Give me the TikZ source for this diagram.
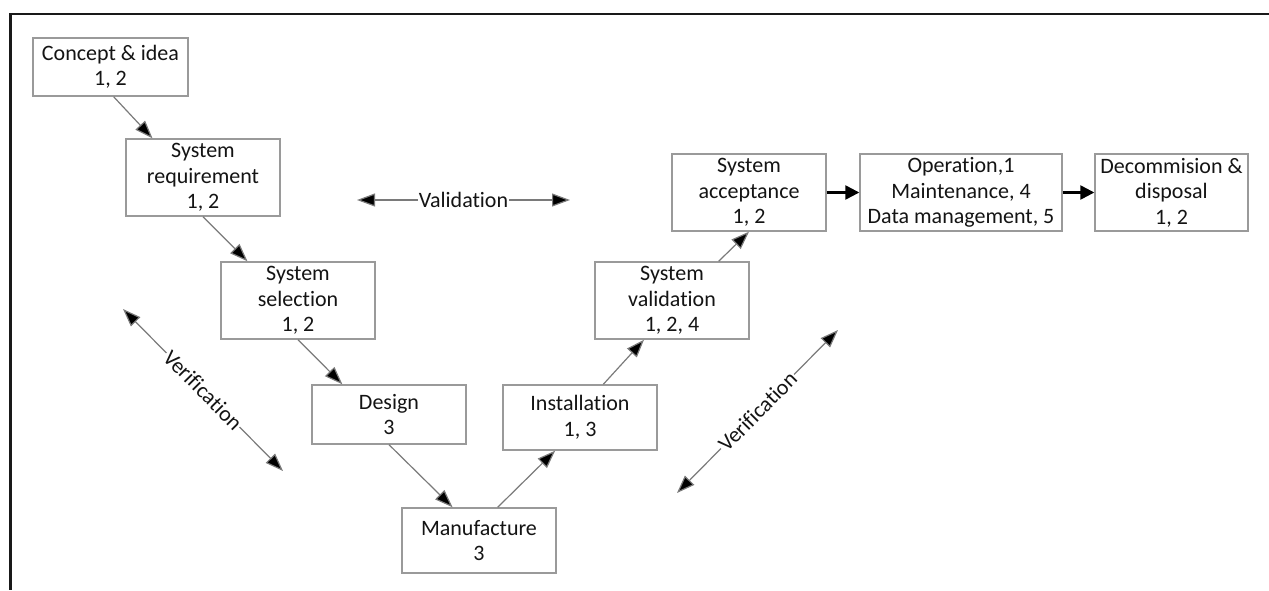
\documentclass[tikz,border=0pt]{standalone}
\usepackage{fontspec}
\setmainfont[Ligatures=CommonOff]{Carlito}
\usetikzlibrary{arrows.meta,calc}
\definecolor{boxgray}{HTML}{9A9A9A}
\definecolor{linegray}{HTML}{7A7A7A}
\definecolor{txt}{HTML}{141414}
\tikzset{
  stagebox/.style={draw=boxgray, line width=1.4pt, fill=white, text=txt, align=center,
    minimum width=154pt, inner sep=1pt, font=\fontsize{22}{25.5}\selectfont},
  flow/.style={draw=linegray, line width=1.2pt, -{Triangle[length=18pt,width=13pt,fill=black]}},
  bothway/.style={draw=linegray, line width=1.2pt,
    {Triangle[length=18pt,width=13pt,fill=black]}-{Triangle[length=18pt,width=13pt,fill=black]}},
  thickflow/.style={draw=black, line width=2.4pt, -{Triangle[length=14pt,width=14pt]}},
  lbl/.style={fill=white, text=txt, inner sep=1pt, font=\fontsize{22}{25.5}\selectfont},
}
\begin{document}
\begin{tikzpicture}[x=1pt,y=-1pt]
\useasboundingbox (0,0) rectangle (1269,590);
% frame
\draw[line width=2.6pt, black!90] (1269,14) -- (10.3,14) -- (10.3,590);
% nodes
\node[stagebox, minimum width=155pt, minimum height=58pt] (concept) at (110.5,67) {Concept \& idea\\1, 2};
\node[stagebox, minimum height=77pt] (sysreq) at (203,177.5) {System\\requirement\\1, 2};
\node[stagebox, minimum height=77pt] (syssel) at (298,300.5) {System\\selection\\1, 2};
\node[stagebox, minimum height=59pt] (design) at (389,414.5) {Design\\3};
\node[stagebox, minimum height=65pt] (manuf) at (479,540.5) {Manufacture\\3};
\node[stagebox, minimum height=65pt] (install) at (580,417.5) {Installation\\1, 3};
\node[stagebox, minimum height=77pt] (sysval) at (672,300.5) {System\\validation\\1, 2, 4};
\node[stagebox, minimum height=77pt] (sysacc) at (749,192.5) {System\\acceptance\\1, 2};
\node[stagebox, minimum width=202pt, minimum height=77pt] (oper) at (961,192.5) {Operation,1\\Maintenance, 4\\Data management, 5};
\node[stagebox, minimum width=153pt, minimum height=77pt] (decom) at (1171.5,192.5) {Decommision \&\\disposal\\1, 2};
% flow connectors
\draw[flow] ($(concept.south west)!0.52!(concept.south east)$) -- ($(sysreq.north west)!0.175!(sysreq.north east)$);
\draw[flow] ($(sysreq.south west)!0.5!(sysreq.south east)$) -- ($(syssel.north west)!0.175!(syssel.north east)$);
\draw[flow] ($(syssel.south west)!0.5!(syssel.south east)$) -- ($(design.north west)!0.2!(design.north east)$);
\draw[flow] ($(design.south west)!0.5!(design.south east)$) -- ($(manuf.north west)!0.33!(manuf.north east)$);
\draw[flow] ($(manuf.north west)!0.62!(manuf.north east)$) -- ($(install.south west)!0.34!(install.south east)$);
\draw[flow] ($(install.north west)!0.65!(install.north east)$) -- ($(sysval.south west)!0.32!(sysval.south east)$);
\draw[flow] ($(sysval.north west)!0.8!(sysval.north east)$) -- ($(sysacc.south west)!0.5!(sysacc.south east)$);
\draw[thickflow] (sysacc.east) -- (oper.west);
\draw[thickflow] (oper.east) -- (decom.west);
% validation / verification
\coordinate (valL) at (357,200);
\coordinate (valR) at (570,200);
\draw[bothway] (valL) -- node[lbl] {Validation} (valR);
\coordinate (verLa) at (123,309);
\coordinate (verLb) at (283,471);
\draw[bothway] (verLa) -- node[lbl, sloped] {Verification} (verLb);
\coordinate (verRa) at (677,493);
\coordinate (verRb) at (838,330);
\draw[bothway] (verRa) -- node[lbl, sloped] {Verification} (verRb);
\end{tikzpicture}
\end{document}
